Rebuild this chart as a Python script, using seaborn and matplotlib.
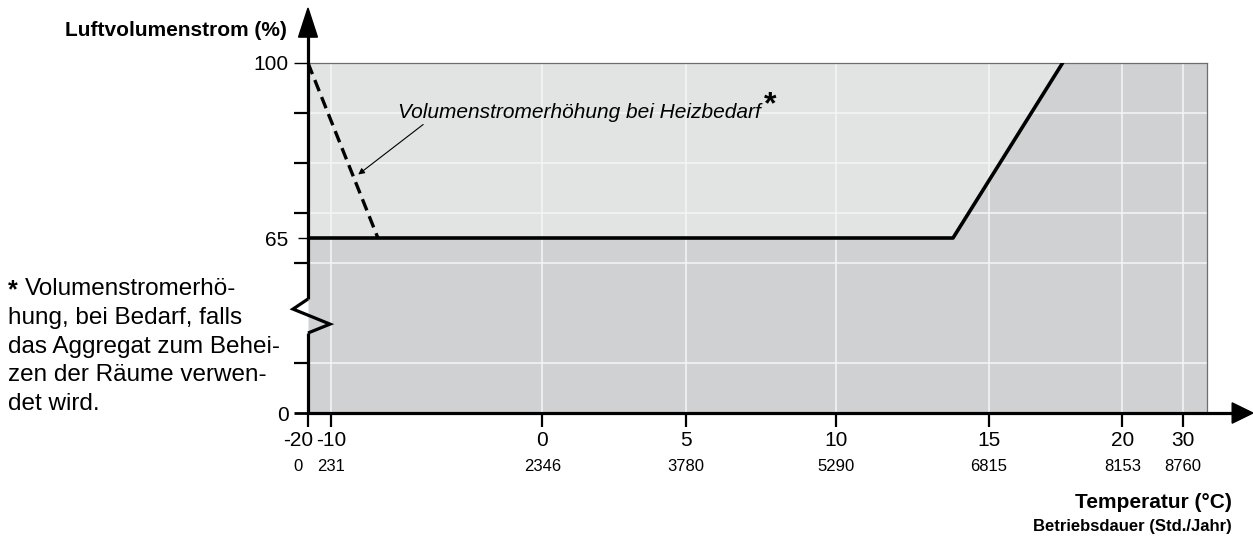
import numpy as np
import matplotlib.pyplot as plt
import matplotlib.transforms as mtransforms
import seaborn as sns
from matplotlib.patches import Polygon

# ---- data ----
# x axis is linear in operating hours; temperatures are only labels
hours_ticks = [0, 231, 2346, 3780, 5290, 6815, 8153, 8760]
temp_labels = ['-20', '-10', '0', '5', '10', '15', '20', '30']
hour_labels = ['0', '231', '2346', '3780', '5290', '6815', '8153', '8760']

curve_hours = [0, 6457, 7554, 9000]
curve_pct = [65, 65, 100, 100]
boost_hours = [0, 700]
boost_pct = [100, 65]

y_label_vals = [0, 65, 100]
note_lines = ['Volumenstromerhö-', 'hung, bei Bedarf, falls', 'das Aggregat zum Behei-',
              'zen der Räume verwen-', 'det wird.']

LIGHT = '#e2e3e3'
DARK = '#d0d1d3'

sns.set_style('white')
plt.rcParams['font.family'] = ['Liberation Sans', 'DejaVu Sans']
plt.rcParams['text.color'] = 'black'
plt.rcParams['xtick.color'] = 'black'
plt.rcParams['ytick.color'] = 'black'
plt.rcParams['xtick.labelcolor'] = 'black'
plt.rcParams['ytick.labelcolor'] = 'black'


# broken y axis: 0..65 and 65..100 each take half the height
def fwd(y):
    return np.interp(y, [0, 65, 100], [0, 3.5, 7])


def inv(v):
    return np.interp(v, [0, 3.5, 7], [0, 65, 100])


fig = plt.figure(figsize=(12.53, 5.38), dpi=100)
ax = fig.add_axes([0.2458, 0.2323, 0.7175, 0.6506])
ax.set_yscale('function', functions=(fwd, inv))
ax.set_xlim(0, 9000)
ax.set_ylim(0, 100)

# background regions
ax.fill_between(curve_hours, curve_pct, 100, color=LIGHT, lw=0, zorder=0.5)
ax.fill_between(curve_hours, 0, curve_pct, color=DARK, lw=0, zorder=0.5)

# grid
grid_y = [float(inv(1)), float(inv(3)), 70, 80, 90]
for h in hours_ticks[1:]:
    ax.axvline(h, color='#f6f6f6', lw=1.1, zorder=1)
for g in grid_y:
    ax.axhline(g, color='#f6f6f6', lw=1.1, zorder=1)

# curves
sns.lineplot(x=curve_hours[:3], y=curve_pct[:3], color='black', lw=2.6, ax=ax, zorder=3)
sns.lineplot(x=boost_hours, y=boost_pct, color='black', lw=2.4, ax=ax, zorder=3,
             linestyle=(0, (3.6, 1.9)))

# frame: thin grey top/right, drawn black axes with arrows
for s in ['left', 'bottom']:
    ax.spines[s].set_visible(False)
for s in ['top', 'right']:
    ax.spines[s].set_color('#6d6e70')
    ax.spines[s].set_linewidth(0.9)

kw = dict(transform=ax.transAxes, clip_on=False, color='black', lw=2.3, zorder=5,
          solid_capstyle='butt')
ax.plot([0, 0], [-0.004, 0.2286], **kw)
ax.plot([0, -0.0167, 0.0245, 0], [0.3257, 0.297, 0.254, 0.2286], **{**kw, 'solid_joinstyle': 'miter'})
ax.plot([0, 0], [0.3257, 1.08], **kw)
ax.plot([-0.0015, 1.03], [0, 0], **kw)
ax.add_patch(Polygon([[0, 1.157], [-0.0105, 1.074], [0.0105, 1.074]], closed=True,
                     transform=ax.transAxes, clip_on=False, color='black', zorder=5))
ax.add_patch(Polygon([[1.051, 0], [1.028, 0.029], [1.028, -0.029]], closed=True,
                     transform=ax.transAxes, clip_on=False, color='black', zorder=5))

# x ticks: temperatures as major labels, hours as minor labels further down
ax.set_xticks(hours_ticks)
ax.set_xticklabels(temp_labels)
ax.set_xticks(hours_ticks, minor=True)
ax.set_xticklabels(hour_labels, minor=True)
ax.xaxis.remove_overlapping_locs = False
ax.tick_params(axis='x', which='major', direction='out', length=10, width=1.6,
               labelsize=15, pad=3, bottom=True)
ax.tick_params(axis='x', which='minor', length=0, labelsize=12, pad=33, bottom=True)

# first labels sit a bit left of the corner in the reference
shift = mtransforms.ScaledTranslation(-0.1, 0, fig.dpi_scale_trans)
for t in (ax.xaxis.get_major_ticks()[0], ax.xaxis.get_minor_ticks()[0]):
    t.label1.set_transform(t.label1.get_transform() + shift)

ax.set_yticks(y_label_vals)
ax.set_yticklabels([str(v) for v in y_label_vals])
ax.set_yticks(grid_y, minor=True)
ax.tick_params(axis='y', which='major', direction='out', length=10, width=1.0,
               labelsize=15, pad=4, left=True)
ax.tick_params(axis='y', which='minor', direction='out', length=10, width=1.6, left=True)
ax.yaxis.get_major_ticks()[0].tick1line.set_markeredgewidth(2.0)
ax.yaxis.get_major_ticks()[1].tick1line.set_markersize(7)

# annotation
txt = ax.text(904, 89.1, 'Volumenstromerhöhung bei Heizbedarf', fontsize=15,
              style='italic', va='baseline', ha='left')
ax.annotate('*', xy=(1, 0), xycoords=txt, xytext=(2, 1), textcoords='offset points',
            fontsize=23, fontweight='bold', va='bottom', ha='left')
ax.annotate('', xy=(503, 77.7), xytext=(1153, 87.7),
            arrowprops=dict(arrowstyle='-|>', lw=0.8, color='black', mutation_scale=9,
                            shrinkA=0, shrinkB=0))

# axis titles
fig.text(287 / 1253, 1 - 31 / 538, 'Luftvolumenstrom (%)', ha='right', va='center',
         fontsize=15, fontweight='bold')
fig.text(1232 / 1253, 1 - 503 / 538, 'Temperatur (°C)', ha='right', va='center',
         fontsize=15, fontweight='bold')
fig.text(1232 / 1253, 1 - 527 / 538, 'Betriebsdauer (Std./Jahr)', ha='right', va='center',
         fontsize=12, fontweight='bold')

# footnote
fig.text(8 / 1253, 1 - 297 / 538, '*', ha='left', va='baseline', fontsize=18, fontweight='bold')
for i, line in enumerate(note_lines):
    x0 = 25 if i == 0 else 8
    fig.text(x0 / 1253, 1 - (295 + i * 28.75) / 538, line, ha='left', va='baseline',
             fontsize=17.5)

fig.savefig('out.png', dpi=100)
